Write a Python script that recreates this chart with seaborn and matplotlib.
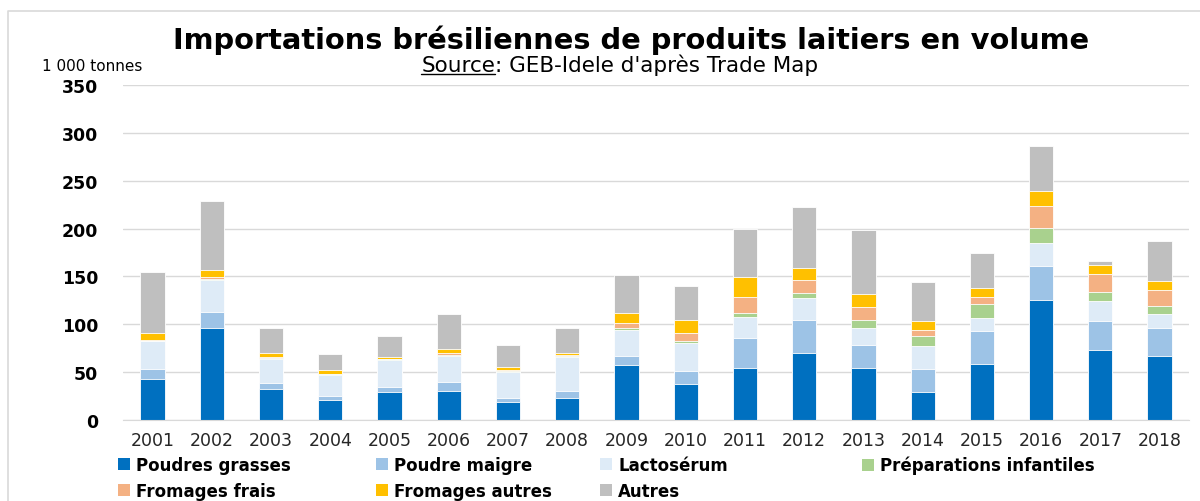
import matplotlib
matplotlib.use("Agg")
import matplotlib.pyplot as plt
import pandas as pd
import numpy as np
import seaborn as sns
from matplotlib.patches import Patch
from matplotlib.lines import Line2D

years = [str(y) for y in range(2001, 2019)]
poudres_grasses = [42.5, 96, 32.5, 21, 29, 30.5, 19, 22.5, 57, 37.5, 54.5, 70, 54, 29.5, 58, 125.5, 73, 67]
poudre_maigre = [11, 17, 6.5, 4, 5, 9.5, 4, 7.5, 10, 13.5, 31, 34, 24.5, 24, 35, 35, 30, 29.5]
lactoserum = [29, 33.5, 25, 22.5, 29, 27, 27, 35.5, 27, 29.5, 22.5, 23.5, 17.5, 23.5, 14, 24.5, 21, 14]
prep_infantiles = [0.5, 1, 0.5, 0.3, 0.3, 1, 1, 1, 2, 2.5, 3.5, 5.5, 8.5, 11, 14.5, 15.5, 10, 8.5]
fromages_frais = [1, 2, 1, 0.5, 0.5, 1.5, 1, 1, 5.5, 8, 17.5, 13, 14, 6.5, 7.5, 23.5, 18, 16.5]
fromages_autres = [6.5, 7, 4.5, 3.5, 2.5, 4.5, 3, 3, 10, 13, 20, 12.5, 13, 8.5, 8.5, 15.5, 9.5, 10]
autres = [64, 72.5, 26, 17, 21.5, 37, 23.5, 26, 40, 36, 50.5, 64, 67.5, 41, 36.5, 46.5, 4.5, 41]

series = ["Poudres grasses", "Poudre maigre", "Lactosérum", "Préparations infantiles",
          "Fromages frais", "Fromages autres", "Autres"]
colors = ["#0070C0", "#9DC3E6", "#DEEBF7", "#A9D18E", "#F4B183", "#FFC000", "#BFBFBF"]

df = pd.DataFrame(dict(zip(series, [poudres_grasses, poudre_maigre, lactoserum, prep_infantiles,
                                    fromages_frais, fromages_autres, autres])), index=years)
cum = df.cumsum(axis=1)

sns.set_style("white")
plt.rcParams["font.family"] = ["DejaVu Sans"]
plt.rcParams["text.color"] = "black"

fig = plt.figure(figsize=(12, 5.02), dpi=100)
ax = fig.add_axes([0.1025, 0.1614, 0.8885, 0.6673])

# stacked bars: draw cumulative totals from the top layer down
for name, col in reversed(list(zip(series, colors))):
    sns.barplot(x=years, y=cum[name].values, color=col, saturation=1, width=0.41,
                edgecolor="white", linewidth=0.6, ax=ax)

ax.set_ylim(0, 350)
ax.set_yticks(np.arange(0, 351, 50))
ax.set_xlim(-0.5, len(years) - 0.5)
ax.yaxis.grid(True, color="#D9D9D9", linewidth=1)
ax.set_axisbelow(True)
sns.despine(ax=ax, left=True)
ax.spines["bottom"].set_color("#D9D9D9")
ax.tick_params(axis="y", length=0, pad=18, labelsize=12.5, labelcolor="black")
ax.tick_params(axis="x", length=0, pad=8, labelsize=12.5, labelcolor="#262626")
for lab in ax.get_yticklabels():
    lab.set_fontweight("bold")
ax.set_xlabel("")
ax.set_ylabel("")

fig.text(0.526, 0.920, "Importations brésiliennes de produits laitiers en volume",
         ha="center", va="center", fontsize=20.8, fontweight="bold", color="black")
fig.text(0.035, 0.868, "1 000 tonnes", ha="left", va="center", fontsize=11, color="black")

# subtitle with underlined "Source"
t1 = fig.text(0.351, 0.868, "Source", ha="left", va="center", fontsize=15.5, color="black")
t2 = ax.annotate(": GEB-Idele d'après Trade Map", xy=(1, 0), xycoords=t1, va="bottom",
                 fontsize=15.5, color="black")
fig.canvas.draw()
bb = t1.get_window_extent()
inv = fig.transFigure.inverted()
(x0, y0), (x1, _) = inv.transform([(bb.x0, bb.y0 + 1), (bb.x1, bb.y0)])
fig.add_artist(Line2D([x0, x1], [y0, y0], color="black", linewidth=1))

# outer frame (left and top edges visible)
fig.add_artist(Line2D([8 / 1200, 8 / 1200, 1.02], [-0.02, 1 - 12 / 502, 1 - 12 / 502],
                      color="#D9D9D9", linewidth=1.2))

# legend laid out in columns like the original
handles = [Patch(facecolor=c, edgecolor="none") for c in colors]
columns = [([0, 4], 118), ([1, 5], 376), ([2, 6], 600), ([3], 862)]
for idx, xpix in columns:
    fig.legend([handles[i] for i in idx], [series[i] for i in idx],
               loc="upper left", bbox_to_anchor=(xpix / 1200, 1 - 457 / 502),
               frameon=False, borderpad=0, borderaxespad=0, handlelength=0.7,
               handleheight=0.7, handletextpad=0.4, labelspacing=0.48,
               prop={"size": 12, "weight": "bold"})

fig.savefig("out.png", dpi=100)
